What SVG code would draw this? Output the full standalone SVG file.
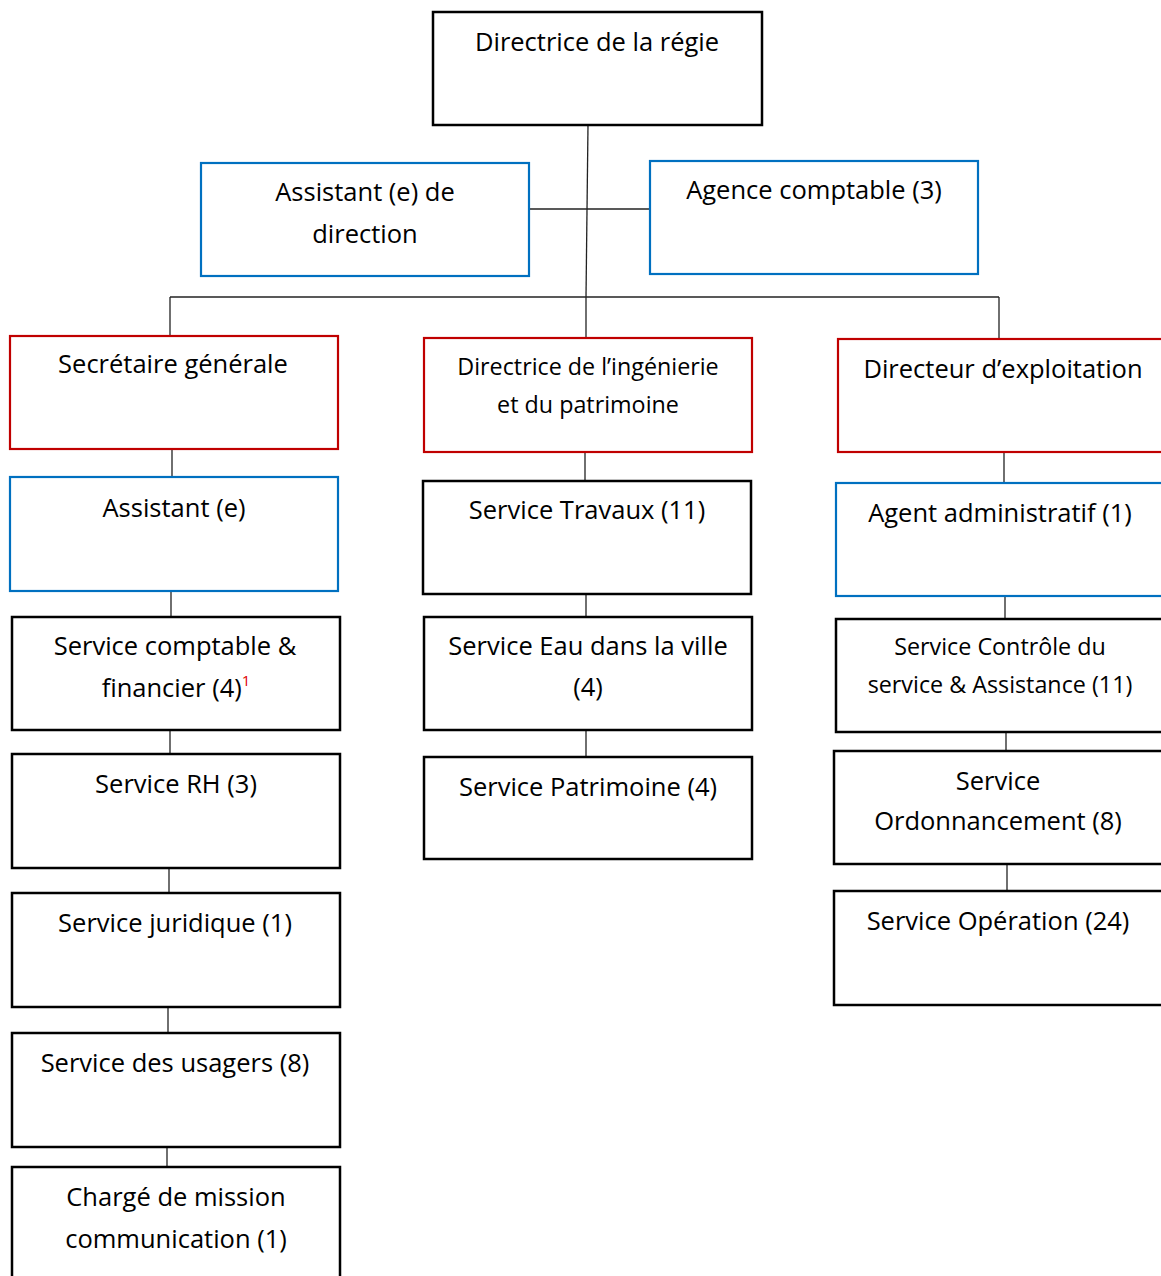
<svg xmlns="http://www.w3.org/2000/svg" width="1161" height="1276" viewBox="0 0 1161 1276">
<style>
rect{fill:#fff}
.k{stroke:#000;stroke-width:2.5}
.r{stroke:#C00000;stroke-width:2.2}
.b{stroke:#0070C0;stroke-width:2.2}
text{font-family:"Open Sans","Noto Sans","Liberation Sans",sans-serif;font-size:25.5px;fill:#000;text-anchor:middle}
.s{font-size:23.3px}
.sup{font-size:15px;fill:#E00000}
#connectors line{stroke:#222;stroke-width:1.3}
</style>
<rect x="0" y="0" width="1161" height="1276" fill="#fff"/>
<g id="connectors">
<line x1="588" y1="125" x2="586" y2="297"/>
<line x1="529" y1="209" x2="651" y2="209"/>
<line x1="170" y1="297" x2="999" y2="297"/>
<line x1="170" y1="297" x2="170" y2="336"/>
<line x1="586" y1="297" x2="586" y2="338"/>
<line x1="999" y1="297" x2="999" y2="339"/>
<line x1="172" y1="449" x2="172" y2="477"/>
<line x1="171" y1="591" x2="171" y2="617"/>
<line x1="170" y1="730" x2="170" y2="754"/>
<line x1="169" y1="868" x2="169" y2="893"/>
<line x1="168" y1="1007" x2="168" y2="1033"/>
<line x1="167" y1="1147" x2="167" y2="1167"/>
<line x1="585" y1="452" x2="585" y2="481"/>
<line x1="586" y1="594" x2="586" y2="617"/>
<line x1="586" y1="730" x2="586" y2="757"/>
<line x1="1004" y1="452" x2="1004" y2="483"/>
<line x1="1005" y1="596" x2="1005" y2="619"/>
<line x1="1006" y1="732" x2="1006" y2="751"/>
<line x1="1007" y1="864" x2="1007" y2="891"/>
</g>
<g id="directrice-regie"><rect class="k" x="433" y="12" width="329" height="113"/><text x="597" y="51">Directrice de la régie</text></g>
<g id="assistant-direction"><rect class="b" x="201" y="163" width="328" height="113"/><text x="365" y="201">Assistant (e) de</text><text x="365" y="243">direction</text></g>
<g id="agence-comptable"><rect class="b" x="650" y="161" width="328" height="113"/><text x="814" y="199">Agence comptable (3)</text></g>
<g id="secretaire-generale"><rect class="r" x="10" y="336" width="328" height="113"/><text x="173" y="373">Secrétaire générale</text></g>
<g id="directrice-ingenierie"><rect class="r" x="424" y="338" width="328" height="114"/><text class="s" x="588" y="375">Directrice de l’ingénierie</text><text class="s" x="588" y="413">et du patrimoine</text></g>
<g id="directeur-exploitation"><rect class="r" x="838" y="339" width="340" height="113"/><text x="1003" y="378">Directeur d’exploitation</text></g>
<g id="assistant-sg"><rect class="b" x="10" y="477" width="328" height="114"/><text x="174" y="517">Assistant (e)</text></g>
<g id="service-travaux"><rect class="k" x="423" y="481" width="328" height="113"/><text x="587" y="519">Service Travaux (11)</text></g>
<g id="agent-administratif"><rect class="b" x="836" y="483" width="340" height="113"/><text x="1000" y="522">Agent administratif (1)</text></g>
<g id="service-comptable"><rect class="k" x="12" y="617" width="328" height="113"/><text x="175" y="655">Service comptable &amp;</text><text x="176" y="697">financier (4)<tspan class="sup" dy="-11">1</tspan></text></g>
<g id="service-eau"><rect class="k" x="424" y="617" width="328" height="113"/><text x="588" y="655">Service Eau dans la ville</text><text x="588" y="696">(4)</text></g>
<g id="service-controle"><rect class="k" x="836" y="619" width="340" height="113"/><text class="s" x="1000" y="655">Service Contrôle du</text><text class="s" x="1000" y="693">service &amp; Assistance (11)</text></g>
<g id="service-rh"><rect class="k" x="12" y="754" width="328" height="114"/><text x="176" y="793">Service RH (3)</text></g>
<g id="service-patrimoine"><rect class="k" x="424" y="757" width="328" height="102"/><text x="588" y="796">Service Patrimoine (4)</text></g>
<g id="service-ordonnancement"><rect class="k" x="834" y="751" width="340" height="113"/><text x="998" y="790">Service</text><text x="998" y="830">Ordonnancement (8)</text></g>
<g id="service-juridique"><rect class="k" x="12" y="893" width="328" height="114"/><text x="175" y="932">Service juridique (1)</text></g>
<g id="service-operation"><rect class="k" x="834" y="891" width="340" height="114"/><text x="998" y="930">Service Opération (24)</text></g>
<g id="service-usagers"><rect class="k" x="12" y="1033" width="328" height="114"/><text x="175" y="1072">Service des usagers (8)</text></g>
<g id="charge-mission"><rect class="k" x="12" y="1167" width="328" height="130"/><text x="176" y="1206">Chargé de mission</text><text x="176" y="1248">communication (1)</text></g>
</svg>
